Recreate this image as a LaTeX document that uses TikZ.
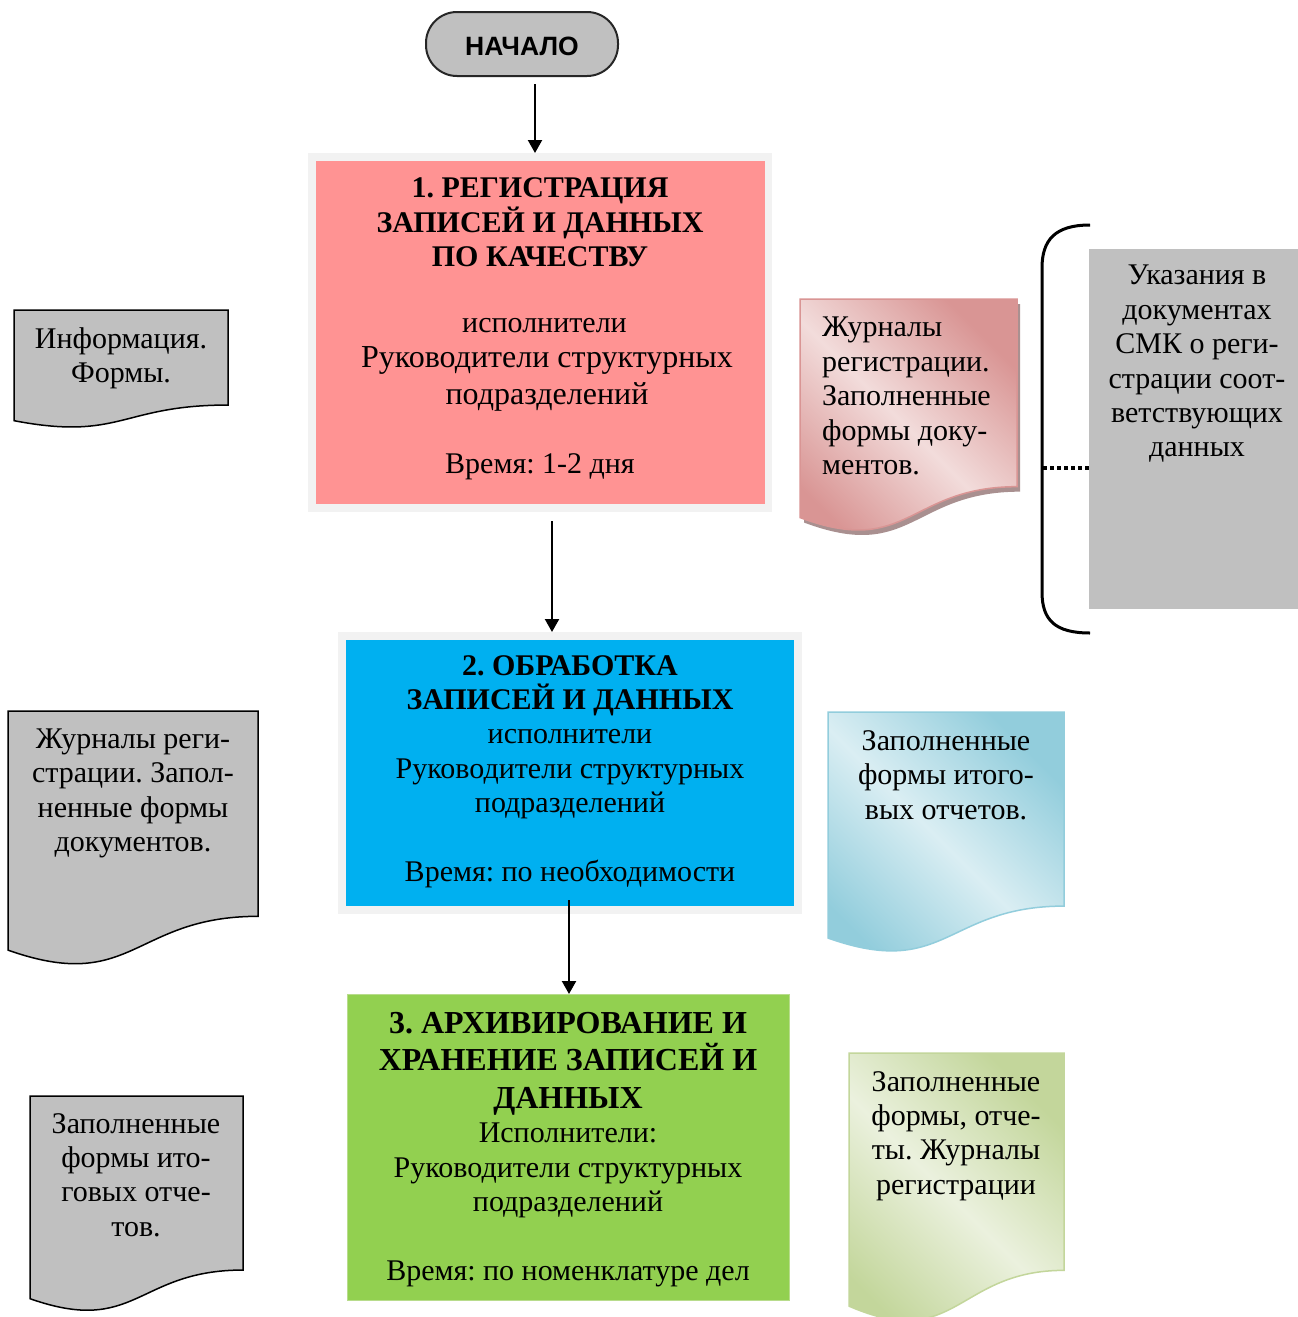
\documentclass[tikz,border=0pt]{standalone}
\usepackage{fontspec}
\setmainfont{Liberation Serif}
\newfontfamily\sansfnt{Liberation Sans}
\usetikzlibrary{arrows.meta,calc}
\frenchspacing
\definecolor{pinkbox}{HTML}{FF9393}
\definecolor{bluebox}{HTML}{00B0F0}
\definecolor{greenbox}{HTML}{92D050}
\definecolor{greenedge}{HTML}{B8DC8C}
\definecolor{framegray}{HTML}{F2F2F2}
\definecolor{docgray}{HTML}{C0C0C0}
\definecolor{pinkdark}{HTML}{D99594}
\definecolor{pinklight}{HTML}{F2DCDB}
\definecolor{pinkshadow}{HTML}{A99090}
\definecolor{bluedark}{HTML}{92CDDC}
\definecolor{bluelight}{HTML}{DAEEF3}
\definecolor{greendark}{HTML}{C3D69B}
\definecolor{greenlight}{HTML}{EBF1DE}
\newcommand\docshape[5]{%
  \path[#1] (#2,#3) -- (#4,#3) -- (#4,{#3+0.802*#5})
    .. controls ({(#2+#4)/2},{#3+0.802*#5}) and ({(#2+#4)/2},{#3+1.107*#5}) ..
    (#2,{#3+0.934*#5}) -- cycle;}
\newcommand\bigbold[1]{{\fontsize{32}{37}\selectfont\bfseries #1}}
\newcommand\bigreg[1]{{\fontsize{32}{37}\selectfont #1}}
\tikzset{
  txt/.style={font=\fontsize{30}{34.4}\selectfont, align=center, inner sep=0pt},
  boxnode/.style={rectangle, inner sep=0pt, outer sep=0pt},
  arr/.style={line width=2.2pt, -{Triangle[width=14pt,length=13pt]}},
  graydoc/.style={fill=docgray, draw=black, line width=1.5pt},
}
\begin{document}
\begin{tikzpicture}[x=1pt,y=-1pt]
\useasboundingbox (0,0) rectangle (1298,1317);
\fill[white] (0,0) rectangle (1298,1317);

% start
\node[boxnode, fill=docgray, draw=black!85, line width=2pt, rounded corners=31pt,
  minimum width=192pt, minimum height=64pt] (start) at (522,44) {};
\node[font=\sansfnt\bfseries\fontsize{26.5}{30}\selectfont, inner sep=0pt] (starttxt) at (522,46) {НАЧАЛО};

% box 1
\node[boxnode, fill=framegray, minimum width=464pt, minimum height=359pt] (f1) at (540,332.5) {};
\node[boxnode, fill=pinkbox, minimum width=449pt, minimum height=343pt] (b1) at (540.5,332.5) {};
\node[txt] (t1a) at (540,222.5) {\textbf{1. РЕГИСТРАЦИЯ}\\\textbf{ЗАПИСЕЙ И ДАННЫХ}\\\textbf{ПО КАЧЕСТВУ}};
\node[txt] (t1b) at (547,399) {\hspace*{-5pt}исполнители\\[0.6pt]\bigreg{Руководители структурных}\\[2.6pt]\bigreg{подразделений}\\~\\\hspace*{-14pt}Время: 1-2 дня};

% box 2
\node[boxnode, fill=framegray, minimum width=464pt, minimum height=282pt] (f2) at (570,773) {};
\node[boxnode, fill=bluebox, minimum width=448pt, minimum height=266pt] (b2) at (570,773) {};
\node[txt] (t2) at (570,771.5) {\textbf{2. ОБРАБОТКА}\\\textbf{ЗАПИСЕЙ И ДАННЫХ}\\исполнители\\Руководители структурных\\подразделений\\~\\Время: по необходимости};

% box 3
\node[boxnode, fill=greenbox, draw=greenedge, line width=1pt, minimum width=442pt, minimum height=306pt] (b3) at (568,1147) {};
\node[txt] (t3) at (568,1149.5) {\bigbold{3. АРХИВИРОВАНИЕ И}\\[3pt]\bigbold{ХРАНЕНИЕ ЗАПИСЕЙ И}\\[3pt]\bigbold{ДАННЫХ}\\Исполнители:\\Руководители структурных\\подразделений\\~\\Время: по номенклатуре дел};

% arrows
\coordinate (a1s) at (535,84);
\coordinate (a2s) at (552,521);
\coordinate (a3s) at (569,900);
\draw[arr] (a1s) -- (a1s |- f1.north);
\draw[arr] (a2s) -- (a2s |- f2.north);
\draw[arr] (a3s) -- (a3s |- b3.north);

% left documents
\docshape{graydoc}{14}{310}{228}{118.5}
\node[txt] (l1) at (121,358) {Информация.\\Формы.};
\docshape{graydoc}{8}{711}{258}{256}
\node[txt] (l2) at (133,793.5) {Журналы реги-\\страции. Запол-\\ненные формы\\документов.};
\docshape{graydoc}{30}{1096}{243}{217}
\node[txt] (l3) at (136,1175) {Заполненные\\формы ито-\\говых отче-\\тов.};

% right documents
\docshape{fill=pinkshadow}{804}{304}{1020}{234}
\docshape{top color=pinkdark, bottom color=pinkdark, middle color=pinklight, shading angle=-45, draw=pinkdark, line width=1.5pt}{800}{299}{1017}{234}
\node[txt, align=left, anchor=west] (r1) at (822,396) {Журналы\\регистрации.\\Заполненные\\формы доку-\\ментов.};

\docshape{top color=bluedark, bottom color=bluedark, middle color=bluelight, shading angle=-45, draw=bluedark, line width=1.5pt}{828}{712}{1064}{242}
\node[txt] (r2) at (946,775) {Заполненные\\формы итого-\\вых отчетов.};

\docshape{top color=greendark, bottom color=greendark, middle color=greenlight, shading angle=-45, draw=greendark, line width=1.5pt}{849}{1053}{1064}{271}
\node[txt] (r3) at (956,1136) {Заполненные\\формы, отче-\\ты. Журналы\\регистрации};

% brace and gray box
\node[boxnode, fill=docgray, minimum width=220pt, minimum height=360pt, anchor=north west] (gbox) at (1089,249) {};
\node[txt] (gtxt) at (1197,364) {Указания в\\документах\\СМК о реги-\\страции соот-\\ветствующих\\данных};
\coordinate (brtop) at (1090,225);
\coordinate (brbot) at (1090,633);
\coordinate (brmid) at (1043,468);
\draw[line width=3pt] (brtop) .. controls (1055,225) and (1042,240) .. (1042,268) -- (1042,592) .. controls (1042,620) and (1055,633) .. (brbot);
\draw[line width=3.5pt, dash pattern=on 3.5pt off 3.5pt] (brmid) -- (brmid -| gbox.west);
\end{tikzpicture}
\end{document}
